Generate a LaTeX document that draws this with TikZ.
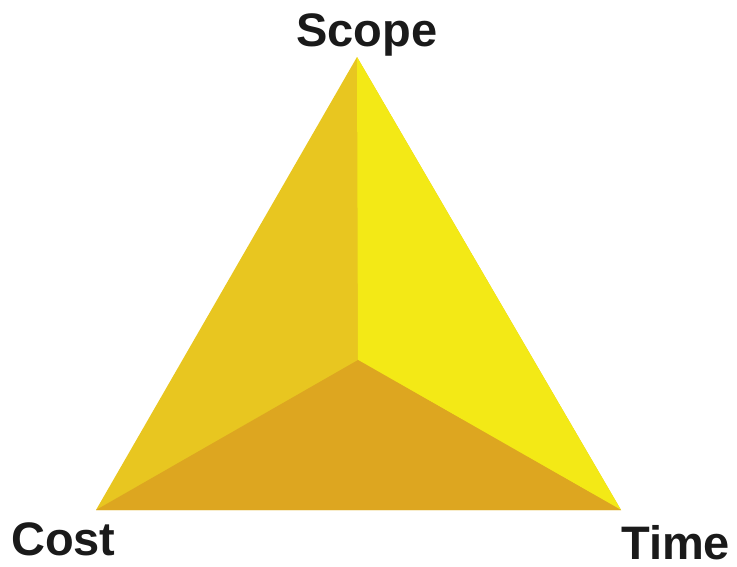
\documentclass[tikz,border=0pt]{standalone}
\usepackage{fontspec}
\setmainfont{Liberation Sans}
\definecolor{leftface}{RGB}{232,198,32}
\definecolor{rightface}{RGB}{243,233,22}
\definecolor{bottomface}{RGB}{221,166,32}
\definecolor{labelink}{RGB}{26,26,26}
\begin{document}
\begin{tikzpicture}[x=1pt,y=-1pt,
  lbl/.style={inner sep=0pt,text depth=0pt,font=\fontsize{47}{47}\selectfont\bfseries,text=labelink}]
\useasboundingbox (0,0) rectangle (737,566);
\coordinate (top) at (357,57);
\coordinate (bl) at (96,510);
\coordinate (br) at (621,510);
\coordinate (mid) at (358,360);
\fill[leftface] (top) -- (br) -- (bl) -- cycle;
\fill[rightface] (top) -- (br) -- (mid) -- cycle;
\fill[bottomface] (bl) -- (mid) -- (br) -- cycle;
\node[lbl,anchor=base] (scope) at (367,46) {Scope};
\node[lbl,anchor=base west] (cost) at (11,555) {Cost};
\node[lbl,anchor=base west] (time) at (621,559) {Time};
\end{tikzpicture}
\end{document}
